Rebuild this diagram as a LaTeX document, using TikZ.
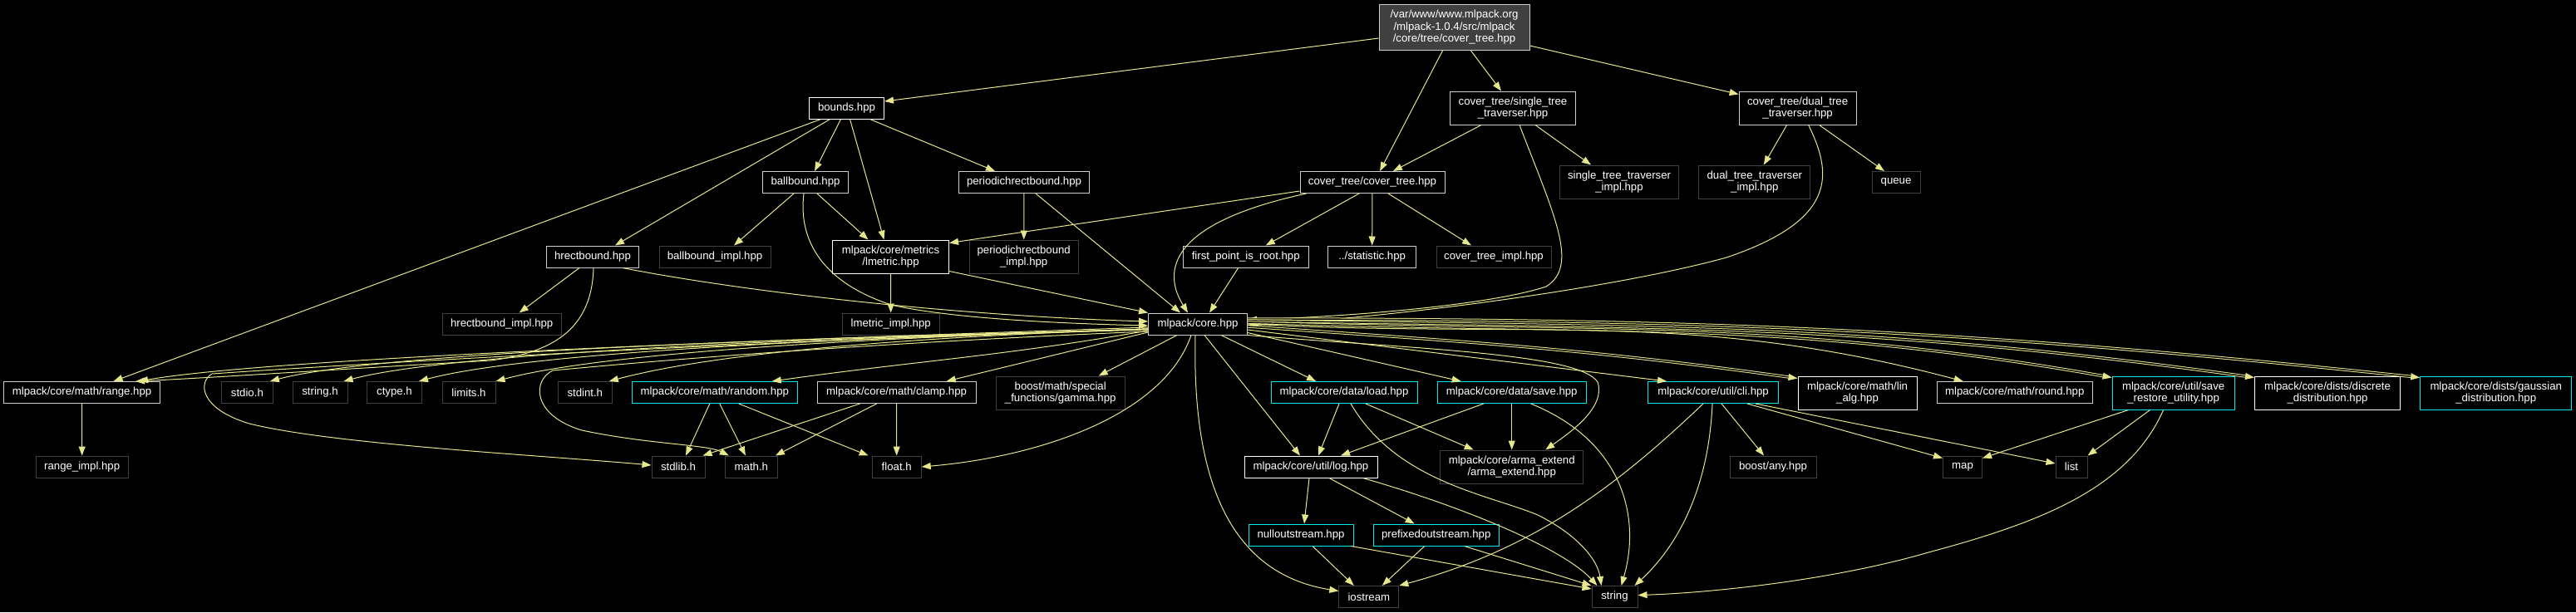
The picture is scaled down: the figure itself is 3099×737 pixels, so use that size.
\documentclass[tikz,border=0pt]{standalone}
\usepackage{fontspec}
\setmainfont{Liberation Sans}
\usetikzlibrary{arrows.meta}

\definecolor{edgecol}{RGB}{230,230,140}
\definecolor{darkframe}{RGB}{64,64,64}
\definecolor{grayframe}{RGB}{205,205,205}
\definecolor{cutframe}{RGB}{0,235,235}
\definecolor{rootfill}{RGB}{64,64,64}

\tikzset{
  filenode/.style={draw=grayframe, line width=1pt, fill=black, text=white, align=center,
    inner xsep=2pt, inner ysep=2pt, minimum height=26pt,
    font=\fontsize{13.2}{14.5}\selectfont},
  docfile/.style={filenode, draw=white},
  sysfile/.style={filenode, draw=darkframe},
  cutfile/.style={filenode, draw=cutframe},
  rootfile/.style={filenode, fill=rootfill},
  inc/.style={draw=edgecol, line width=1pt, -{Triangle[length=11pt,width=8pt]}},
  inc2/.style={inc, double=black, double distance=1.4pt},
}

\begin{document}
\begin{tikzpicture}[x=1pt, y=-1pt]
% background
\fill[black] (0,0) rectangle (3099,737);
\useasboundingbox (0,0) rectangle (3099,737);

% top rows
\node[rootfile, minimum width=181pt, minimum height=55pt] (root) at (1749.5,33)
  {/var/www/www.mlpack.org\\/mlpack-1.0.4/src/mlpack\\/core/tree/cover\_tree.hpp};
\node[docfile, minimum width=90pt] (bounds) at (1018.5,130) {bounds.hpp};
\node[filenode, minimum width=151pt, minimum height=40pt] (single) at (1820,130) {cover\_tree/single\_tree\\\_traverser.hpp};
\node[filenode, minimum width=141pt, minimum height=40pt] (dual) at (2162.6,130) {cover\_tree/dual\_tree\\\_traverser.hpp};

\node[filenode, minimum width=103pt] (ballbound) at (969,219.5) {ballbound.hpp};
\node[filenode, minimum width=157pt] (perhrect) at (1232,219.5) {periodichrectbound.hpp};
\node[filenode, minimum width=174pt] (covertree) at (1651,219.5) {cover\_tree/cover\_tree.hpp};
\node[sysfile, minimum width=143pt, minimum height=40pt] (singleimpl) at (1948,219) {single\_tree\_traverser\\\_impl.hpp};
\node[sysfile, minimum width=134pt, minimum height=40pt] (dualimpl) at (2110.8,219) {dual\_tree\_traverser\\\_impl.hpp};
\node[sysfile, minimum width=58pt] (queue) at (2281,219.5) {queue};

\node[filenode, minimum width=111pt] (hrect) at (713,309) {hrectbound.hpp};
\node[sysfile, minimum width=134pt] (ballimpl) at (860,309) {ballbound\_impl.hpp};
\node[docfile, minimum width=140pt, minimum height=40pt] (lmetric) at (1071.5,309) {mlpack/core/metrics\\/lmetric.hpp};
\node[sysfile, minimum width=131pt, minimum height=40pt] (perhrectimpl) at (1231.7,309) {periodichrectbound\\\_impl.hpp};
\node[filenode, minimum width=151pt] (firstpt) at (1498.7,309) {first\_point\_is\_root.hpp};
\node[filenode, minimum width=106pt] (statistic) at (1650.6,309) {../statistic.hpp};
\node[sysfile, minimum width=138pt] (ctimpl) at (1797,309) {cover\_tree\_impl.hpp};

\node[sysfile, minimum width=143pt] (hrectimpl) at (603.7,390) {hrectbound\_impl.hpp};
\node[sysfile, minimum width=117pt] (lmetricimpl) at (1071.7,390) {lmetric\_impl.hpp};
\node[filenode, minimum width=119pt] (core) at (1441,390) {mlpack/core.hpp};

% row of headers under core.hpp
\node[filenode, minimum width=188pt] (range) at (98.6,472.5) {mlpack/core/math/range.hpp};
\foreach \nm/\cx/\bw/\txt in {stdio/297.4/62/stdio.h, stringh/385/66/string.h, ctype/474.5/66/ctype.h,
    limits/564/64/limits.h, stdint/703.8/65/stdint.h}
  \node[sysfile, minimum width=\bw pt] (\nm) at (\cx,472.5) {\txt};
\node[cutfile, minimum width=199pt] (random) at (859.8,472.5) {mlpack/core/math/random.hpp};
\node[filenode, minimum width=191pt] (clamp) at (1078.6,472.5) {mlpack/core/math/clamp.hpp};
\node[sysfile, minimum width=155pt, minimum height=40pt] (gamma) at (1275.7,473) {boost/math/special\\\_functions/gamma.hpp};
\node[cutfile, minimum width=176pt] (load) at (1617,472.5) {mlpack/core/data/load.hpp};
\node[cutfile, minimum width=179pt] (save) at (1818.7,472.5) {mlpack/core/data/save.hpp};
\node[cutfile, minimum width=157pt] (cli) at (2061,472.5) {mlpack/core/util/cli.hpp};
\node[docfile, minimum width=143pt, minimum height=40pt] (linalg) at (2234.5,473) {mlpack/core/math/lin\\\_alg.hpp};
\node[filenode, minimum width=187pt] (round) at (2423.7,472.5) {mlpack/core/math/round.hpp};
\node[cutfile, minimum width=147pt, minimum height=40pt] (saverestore) at (2614.6,473) {mlpack/core/util/save\\\_restore\_utility.hpp};
\node[docfile, minimum width=175pt, minimum height=40pt] (discrete) at (2800,473) {mlpack/core/dists/discrete\\\_distribution.hpp};
\node[cutfile, minimum width=182pt, minimum height=40pt] (gaussian) at (3002.7,473) {mlpack/core/dists/gaussian\\\_distribution.hpp};

% lower rows
\node[sysfile, minimum width=111pt] (rangeimpl) at (98.7,562) {range\_impl.hpp};
\foreach \nm/\cx/\bw/\txt in {stdlib/816/64/stdlib.h, mathh/903.9/63/math.h, floath/1078.7/59/float.h,
    anyh/2133/104/{boost/any.hpp}, map/2361/47/map, list/2492/38/list}
  \node[sysfile, minimum width=\bw pt] (\nm) at (\cx,562) {\txt};
\node[docfile, minimum width=160pt] (log) at (1577,562) {mlpack/core/util/log.hpp};
\node[sysfile, minimum width=172pt, minimum height=40pt] (arma) at (1818.7,562) {mlpack/core/arma\_extend\\/arma\_extend.hpp};
\node[cutfile, minimum width=126pt] (nullout) at (1565,644) {nulloutstream.hpp};
\node[cutfile, minimum width=151pt] (prefixout) at (1727.7,644) {prefixedoutstream.hpp};
\node[sysfile, minimum width=72pt] (iostream) at (1646.8,718.5) {iostream};
\node[sysfile, minimum width=55pt] (stringstd) at (1942.5,718.5) {string};

% root file
\draw[inc] ([yshift=-13pt]root.west) -- ([yshift=8pt]bounds.east);
\draw[inc] ([xshift=-14pt]root.south) -- ([xshift=9pt]covertree.north);
\draw[inc] ([xshift=20pt]root.south) -- ([xshift=-14pt]single.north);
\draw[inc] ([yshift=-22pt]root.east) -- ([yshift=-4pt]dual.north west);

% bounds.hpp
\draw[inc] ([xshift=-31pt]bounds.south) -- ([xshift=38pt]range.north);
\draw[inc] ([xshift=-20pt]bounds.south) -- ([xshift=27pt]hrect.north);
\draw[inc] ([xshift=-7pt]bounds.south) -- ([xshift=11pt]ballbound.north);
\draw[inc] ([xshift=4pt]bounds.south) -- ([xshift=-8pt]lmetric.north);
\draw[inc] ([xshift=28pt]bounds.south) -- ([xshift=-35pt]perhrect.north);

% ballbound.hpp
\draw[inc] ([xshift=-14pt]ballbound.south) -- ([xshift=23pt]ballimpl.north);
\draw[inc] ([xshift=14pt]ballbound.south) -- ([xshift=-27pt]lmetric.north);
\draw[inc] ([xshift=-2pt]ballbound.south) .. controls (960,290) and (990,340) .. (1072,367)
  .. controls (1150,385) and (1300,390) .. ([yshift=-2pt]core.west);

% periodichrectbound.hpp
\draw[inc] (perhrect) -- (perhrectimpl);
\draw[inc] ([xshift=14pt]perhrect.south) -- ([xshift=-21pt]core.north);

% hrectbound.hpp
\draw[inc] ([xshift=-16pt]hrect.south) -- ([xshift=21pt]hrectimpl.north);
\draw[inc] ([xshift=1pt]hrect.south) .. controls (712,400) and (660,425) .. (590,434)
  .. controls (400,445) and (250,455) .. ([xshift=-30pt]range.north east);
\draw[inc] ([xshift=-20pt]hrect.south east) .. controls (900,352) and (1150,380) .. ([yshift=3pt]core.west);

% lmetric.hpp
\draw[inc] (lmetric) -- (lmetricimpl);
\draw[inc] ([yshift=3pt]lmetric.south east) -- (core.north west);

% cover_tree.hpp
\draw[inc] ([yshift=3pt]covertree.south west) -- ([yshift=-4pt]lmetric.north east);
\draw[inc] ([xshift=8pt]covertree.south west) .. controls (1400,270) and (1400,330) .. ([xshift=-12pt]core.north);
\draw[inc] ([xshift=-16pt]covertree.south) -- ([xshift=24pt]firstpt.north);
\draw[inc] (covertree) -- (statistic);
\draw[inc] ([xshift=19pt]covertree.south) -- ([xshift=-27pt]ctimpl.north);
\draw[inc] ([xshift=-9pt]firstpt.south) -- ([xshift=14pt]core.north);

% traversers
\draw[inc] ([xshift=-38pt]single.south) -- ([xshift=25pt]covertree.north);
\draw[inc] ([xshift=27pt]single.south) -- ([xshift=-34pt]singleimpl.north);
\draw[inc] ([xshift=8pt]single.south) .. controls (1870,260) and (1900,320) .. (1860,345)
  .. controls (1800,365) and (1650,380) .. ([yshift=5pt]core.east);
\draw[inc] ([xshift=-13pt]dual.south) -- ([xshift=11pt]dualimpl.north);
\draw[inc] ([xshift=26pt]dual.south) -- ([xshift=-14pt]queue.north);
\draw[inc] ([xshift=13pt]dual.south) .. controls (2205,210) and (2210,265) .. (2077,310)
  .. controls (1950,345) and (1700,380) .. ([yshift=-2pt]core.east);

% core.hpp, to the left
\draw[inc] ([yshift=-4pt]core.west) .. controls +(-190,7) and +(187,-33) .. ([xshift=-26pt]range.north east);
\foreach \t/\dx in {stdio/-4, stringh/-5, ctype/-4, limits/0, stdint/-4}
  \draw[inc] ([yshift=-6pt]core.west) .. controls +(-170,6) and +(160,-43) .. ([xshift=\dx pt]\t.north east);
\draw[inc] ([yshift=-8pt]core.west) .. controls +(-176,31) and +(177,-25) .. ([xshift=-31pt]random.north east);
\draw[inc] ([yshift=-10pt]core.west) -- ([xshift=-36pt]clamp.north east);
\draw[inc] ([xshift=-25pt]core.south) -- ([xshift=-32pt]gamma.north east);
\draw[inc] ([yshift=-7pt]core.west) .. controls (900,410) and (400,440) .. (255,450)
  .. controls (238,460) and (240,492) .. (300,510)
  .. controls (400,535) and (650,548) .. ([yshift=2pt]stdlib.west);
\draw[inc] ([yshift=-9pt]core.west) .. controls (1000,415) and (750,438) .. (665,446)
  .. controls (640,458) and (640,500) .. (700,518)
  .. controls (780,535) and (850,535) .. ([xshift=5pt]mathh.north west);
\draw[inc] ([xshift=-8pt]core.south) .. controls (1400,500) and (1250,550) .. (floath.east);

% core.hpp, downwards
\draw[inc] ([xshift=8pt]core.south) -- ([xshift=-13pt]log.north);
\draw[inc] ([xshift=28pt]core.south) -- ([xshift=-34pt]load.north);
\draw[inc] ([yshift=3pt]core.south east) -- ([xshift=-61pt]save.north);
\draw[inc] ([xshift=-3pt]core.south) .. controls (1434,570) and (1475,690) .. ([yshift=7pt]iostream.west);
\draw[inc] (core.south east) .. controls (1700,420) and (1900,425) .. (1922,460)
  .. controls (1932,490) and (1890,520) .. ([xshift=-46pt]arma.north east);
\draw[inc] ([yshift=-7pt]core.east) -- ([xshift=23pt]cli.north west);

% core.hpp, to the right
\draw[inc2] ([yshift=6pt]core.east) .. controls +(552,0) and +(-549,-58) .. ([yshift=-2pt]gaussian.north west);
\draw[inc2] ([yshift=4pt]core.east) .. controls +(474,8) and +(-469,-66) .. ([yshift=-2pt]discrete.north west);
\draw[inc2] ([yshift=2pt]core.east) .. controls +(407,14) and +(-401,-71) .. ([yshift=-2pt]saverestore.north west);
\draw[inc] (core.east) .. controls +(338,18) and +(-326,-87) .. ([xshift=-62pt]round.north);
\draw[inc2] ([yshift=-3pt]core.east) .. controls +(259,18) and +(-257,-36) .. ([yshift=-3pt]linalg.north west);

% math headers
\draw[inc] (range) -- (rangeimpl);
\draw[inc] ([xshift=-6pt]random.south) -- ([xshift=9pt]stdlib.north);
\draw[inc] ([xshift=6pt]random.south) -- ([xshift=-7pt]mathh.north);
\draw[inc] ([xshift=29pt]random.south) -- ([xshift=-34pt]floath.north);
\draw[inc] ([xshift=-44pt]clamp.south) -- ([xshift=-3pt]stdlib.north east);
\draw[inc] ([xshift=-24pt]clamp.south) -- ([xshift=-3pt]mathh.north east);
\draw[inc] (clamp) -- (floath);

% data
\draw[inc] ([xshift=-6pt]load.south) -- ([xshift=9pt]log.north);
\draw[inc] ([xshift=26pt]load.south) -- ([xshift=-46pt]arma.north);
\draw[inc] ([xshift=8pt]load.south) .. controls (1680,580) and (1790,595) .. (1850,620)
  .. controls (1900,645) and (1922,675) .. ([xshift=-16pt]stringstd.north);
\draw[inc] ([xshift=-34pt]save.south) -- ([xshift=36pt]log.north);
\draw[inc] (save) -- (arma);
\draw[inc] ([xshift=23pt]save.south) .. controls (1950,530) and (1975,620) .. ([xshift=8pt]stringstd.north);

% log.hpp and streams
\draw[inc] ([xshift=-2pt]log.south) -- ([xshift=4pt]nullout.north);
\draw[inc] ([xshift=22pt]log.south) -- ([xshift=-26pt]prefixout.north);
\draw[inc] ([xshift=-18pt]log.south east) .. controls (1760,610) and (1880,660) .. ([xshift=-21pt]stringstd.north);
\draw[inc] ([xshift=14pt]nullout.south) -- ([xshift=-18pt]iostream.north);
\draw[inc] ([xshift=-3pt]nullout.south east) -- ([yshift=-4pt]stringstd.north west);
\draw[inc] ([xshift=-14pt]prefixout.south) -- ([xshift=16pt]iostream.north);
\draw[inc] ([xshift=34pt]prefixout.south) -- (stringstd.north west);

% cli.hpp
\draw[inc] ([xshift=-12pt]cli.south) .. controls (1950,580) and (1850,660) .. (iostream.north east);
\draw[inc] ([xshift=-1pt]cli.south) .. controls (2055,600) and (2010,665) .. ([xshift=-4pt]stringstd.north east);
\draw[inc] ([xshift=10pt]cli.south) -- ([xshift=-11pt]anyh.north);
\draw[inc] ([xshift=41pt]cli.south) -- ([yshift=-3pt]map.north west);
\draw[inc] ([xshift=51pt]cli.south) -- ([yshift=4pt]list.west);

% save_restore_utility.hpp
\draw[inc] ([xshift=-54pt]saverestore.south) -- ([yshift=-3pt]map.north east);
\draw[inc] ([xshift=-28pt]saverestore.south) -- (list.north east);
\draw[inc] ([xshift=-12pt]saverestore.south) .. controls (2560,590) and (2450,630) .. (2320,665)
  .. controls (2200,700) and (2050,714) .. ([yshift=2pt]stringstd.east);
\end{tikzpicture}
\end{document}
